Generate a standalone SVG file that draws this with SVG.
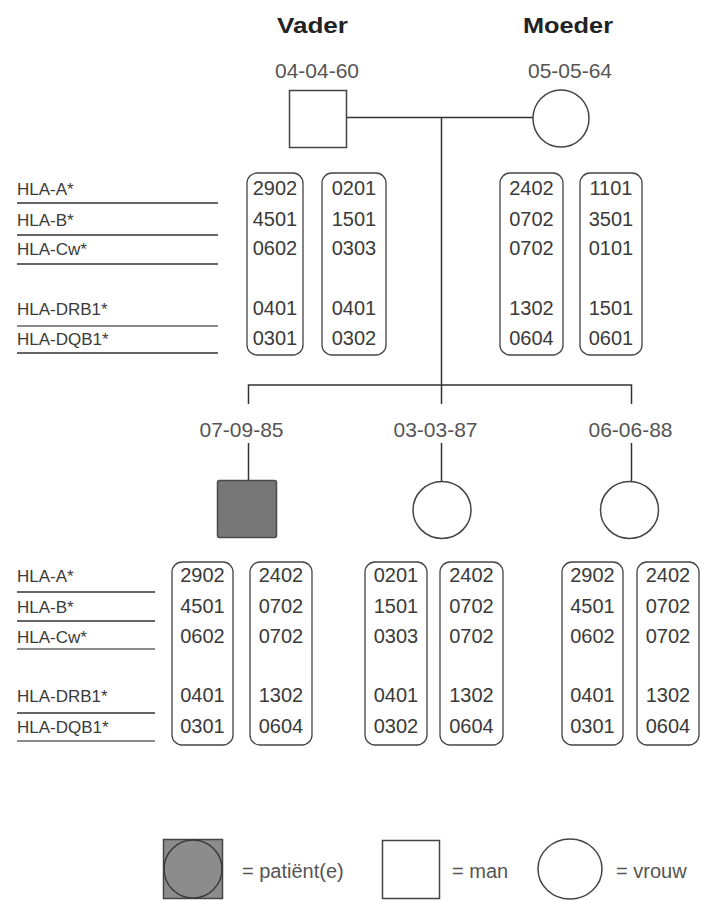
<svg xmlns="http://www.w3.org/2000/svg" width="701" height="900" viewBox="0 0 701 900">
<style>
text{font-family:"Liberation Sans",Arial,sans-serif;fill:#3a3a3a}
.title{font-size:22px;font-weight:bold;fill:#222}
.date{font-size:21px;text-anchor:middle;fill:#555}
.lbl{font-size:17px}
.val{font-size:20px;text-anchor:middle}
.leg{font-size:20px;fill:#555}
.ln{stroke:#333;stroke-width:1.5;fill:none}
.ul{stroke:#333;stroke-width:1.6}
.ulg{stroke:#8a8a8a;stroke-width:1.8}
.box{fill:none;stroke:#444;stroke-width:1.3}
.sym{fill:#fff;stroke:#444;stroke-width:1.5}
.pat{fill:#777;stroke:#4a4a4a;stroke-width:1.5}
</style>
<g id="connectors">
<line class="ln" x1="347" y1="117.5" x2="533" y2="117.5"/>
<line class="ln" x1="441.5" y1="117.5" x2="441.5" y2="385"/>
<polyline class="ln" points="248.5,404 248.5,385 631.5,385 631.5,404"/>
<line class="ln" x1="441.5" y1="385" x2="441.5" y2="404"/>
<line class="ln" x1="248.5" y1="443" x2="248.5" y2="480"/>
<line class="ln" x1="441.5" y1="443" x2="441.5" y2="482"/>
<line class="ln" x1="631.5" y1="443" x2="631.5" y2="482"/>
</g>
<g id="vader">
<text class="title" x="277" y="33" textLength="71" lengthAdjust="spacingAndGlyphs">Vader</text>
<text class="date" x="317" y="78">04-04-60</text>
<rect class="sym" x="289.5" y="90.5" width="57" height="57"/>
</g>
<g id="moeder">
<text class="title" x="523" y="33" textLength="90" lengthAdjust="spacingAndGlyphs">Moeder</text>
<text class="date" x="570" y="78">05-05-64</text>
<ellipse class="sym" cx="561" cy="118.5" rx="28" ry="28.5"/>
</g>
<g id="hla-labels-parents">
<text class="lbl" x="17" y="195">HLA-A*</text>
<text class="lbl" x="17" y="226">HLA-B*</text>
<text class="lbl" x="17" y="255">HLA-Cw*</text>
<text class="lbl" x="17" y="315">HLA-DRB1*</text>
<text class="lbl" x="17" y="345">HLA-DQB1*</text>
<line class="ul" x1="17" y1="203" x2="218" y2="203"/>
<line class="ul" x1="17" y1="235" x2="218" y2="235"/>
<line class="ul" x1="17" y1="264" x2="218" y2="264"/>
<line class="ulg" x1="17" y1="326" x2="218" y2="326"/>
<line class="ul" x1="17" y1="353" x2="218" y2="353"/>
</g>
<g id="hla-vader">
<rect class="box" x="247" y="173" width="56" height="182" rx="10"/>
<rect class="box" x="322" y="173" width="64" height="182" rx="10"/>
<g class="v">
<text class="val" x="275" y="195">2902</text><text class="val" x="275" y="226">4501</text><text class="val" x="275" y="255">0602</text><text class="val" x="275" y="315">0401</text><text class="val" x="275" y="345">0301</text>
<text class="val" x="354" y="195">0201</text><text class="val" x="354" y="226">1501</text><text class="val" x="354" y="255">0303</text><text class="val" x="354" y="315">0401</text><text class="val" x="354" y="345">0302</text>
</g>
</g>
<g id="hla-moeder">
<rect class="box" x="500" y="173" width="63" height="182" rx="10"/>
<rect class="box" x="580" y="173" width="62" height="182" rx="10"/>
<text class="val" x="531.5" y="195">2402</text><text class="val" x="531.5" y="226">0702</text><text class="val" x="531.5" y="255">0702</text><text class="val" x="531.5" y="315">1302</text><text class="val" x="531.5" y="345">0604</text>
<text class="val" x="611" y="195">1101</text><text class="val" x="611" y="226">3501</text><text class="val" x="611" y="255">0101</text><text class="val" x="611" y="315">1501</text><text class="val" x="611" y="345">0601</text>
</g>
<g id="kind1">
<text class="date" x="241.5" y="437">07-09-85</text>
<rect class="pat" x="217.5" y="480.5" width="59" height="57" rx="2"/>
</g>
<g id="kind2">
<text class="date" x="435.5" y="437">03-03-87</text>
<ellipse class="sym" cx="442" cy="510" rx="29" ry="28.5"/>
</g>
<g id="kind3">
<text class="date" x="630.5" y="437">06-06-88</text>
<ellipse class="sym" cx="629.5" cy="510" rx="29" ry="28.5"/>
</g>
<g id="hla-labels-kinderen">
<text class="lbl" x="17" y="582">HLA-A*</text>
<text class="lbl" x="17" y="613">HLA-B*</text>
<text class="lbl" x="17" y="643">HLA-Cw*</text>
<text class="lbl" x="17" y="702">HLA-DRB1*</text>
<text class="lbl" x="17" y="733">HLA-DQB1*</text>
<line class="ul" x1="17" y1="592" x2="155" y2="592"/>
<line class="ul" x1="17" y1="621" x2="155" y2="621"/>
<line class="ulg" x1="17" y1="649" x2="155" y2="649"/>
<line class="ul" x1="17" y1="713" x2="155" y2="713"/>
<line class="ulg" x1="17" y1="741" x2="155" y2="741"/>
</g>
<g id="hla-kind1">
<rect class="box" x="172" y="562" width="61" height="183" rx="10"/>
<rect class="box" x="250" y="562" width="62" height="183" rx="10"/>
<text class="val" x="202.5" y="582">2902</text><text class="val" x="202.5" y="613">4501</text><text class="val" x="202.5" y="643">0602</text><text class="val" x="202.5" y="702">0401</text><text class="val" x="202.5" y="733">0301</text>
<text class="val" x="281" y="582">2402</text><text class="val" x="281" y="613">0702</text><text class="val" x="281" y="643">0702</text><text class="val" x="281" y="702">1302</text><text class="val" x="281" y="733">0604</text>
</g>
<g id="hla-kind2">
<rect class="box" x="365" y="562" width="62" height="183" rx="10"/>
<rect class="box" x="440" y="562" width="63" height="183" rx="10"/>
<text class="val" x="396" y="582">0201</text><text class="val" x="396" y="613">1501</text><text class="val" x="396" y="643">0303</text><text class="val" x="396" y="702">0401</text><text class="val" x="396" y="733">0302</text>
<text class="val" x="471.5" y="582">2402</text><text class="val" x="471.5" y="613">0702</text><text class="val" x="471.5" y="643">0702</text><text class="val" x="471.5" y="702">1302</text><text class="val" x="471.5" y="733">0604</text>
</g>
<g id="hla-kind3">
<rect class="box" x="562" y="562" width="61" height="183" rx="10"/>
<rect class="box" x="637" y="562" width="62" height="183" rx="10"/>
<text class="val" x="592.5" y="582">2902</text><text class="val" x="592.5" y="613">4501</text><text class="val" x="592.5" y="643">0602</text><text class="val" x="592.5" y="702">0401</text><text class="val" x="592.5" y="733">0301</text>
<text class="val" x="668" y="582">2402</text><text class="val" x="668" y="613">0702</text><text class="val" x="668" y="643">0702</text><text class="val" x="668" y="702">1302</text><text class="val" x="668" y="733">0604</text>
</g>
<g id="legenda">
<rect x="163.5" y="839.5" width="59" height="59" fill="#8c8c8c" stroke="#444" stroke-width="1.5"/>
<circle cx="193" cy="869" r="29" fill="#8c8c8c" stroke="#3a3a3a" stroke-width="1.5"/>
<text class="leg" x="242" y="878">= patiënt(e)</text>
<rect class="sym" x="382.5" y="840.5" width="57" height="58"/>
<text class="leg" x="452" y="878">= man</text>
<ellipse class="sym" cx="570" cy="869" rx="32" ry="30"/>
<text class="leg" x="616" y="878">= vrouw</text>
</g>
</svg>
